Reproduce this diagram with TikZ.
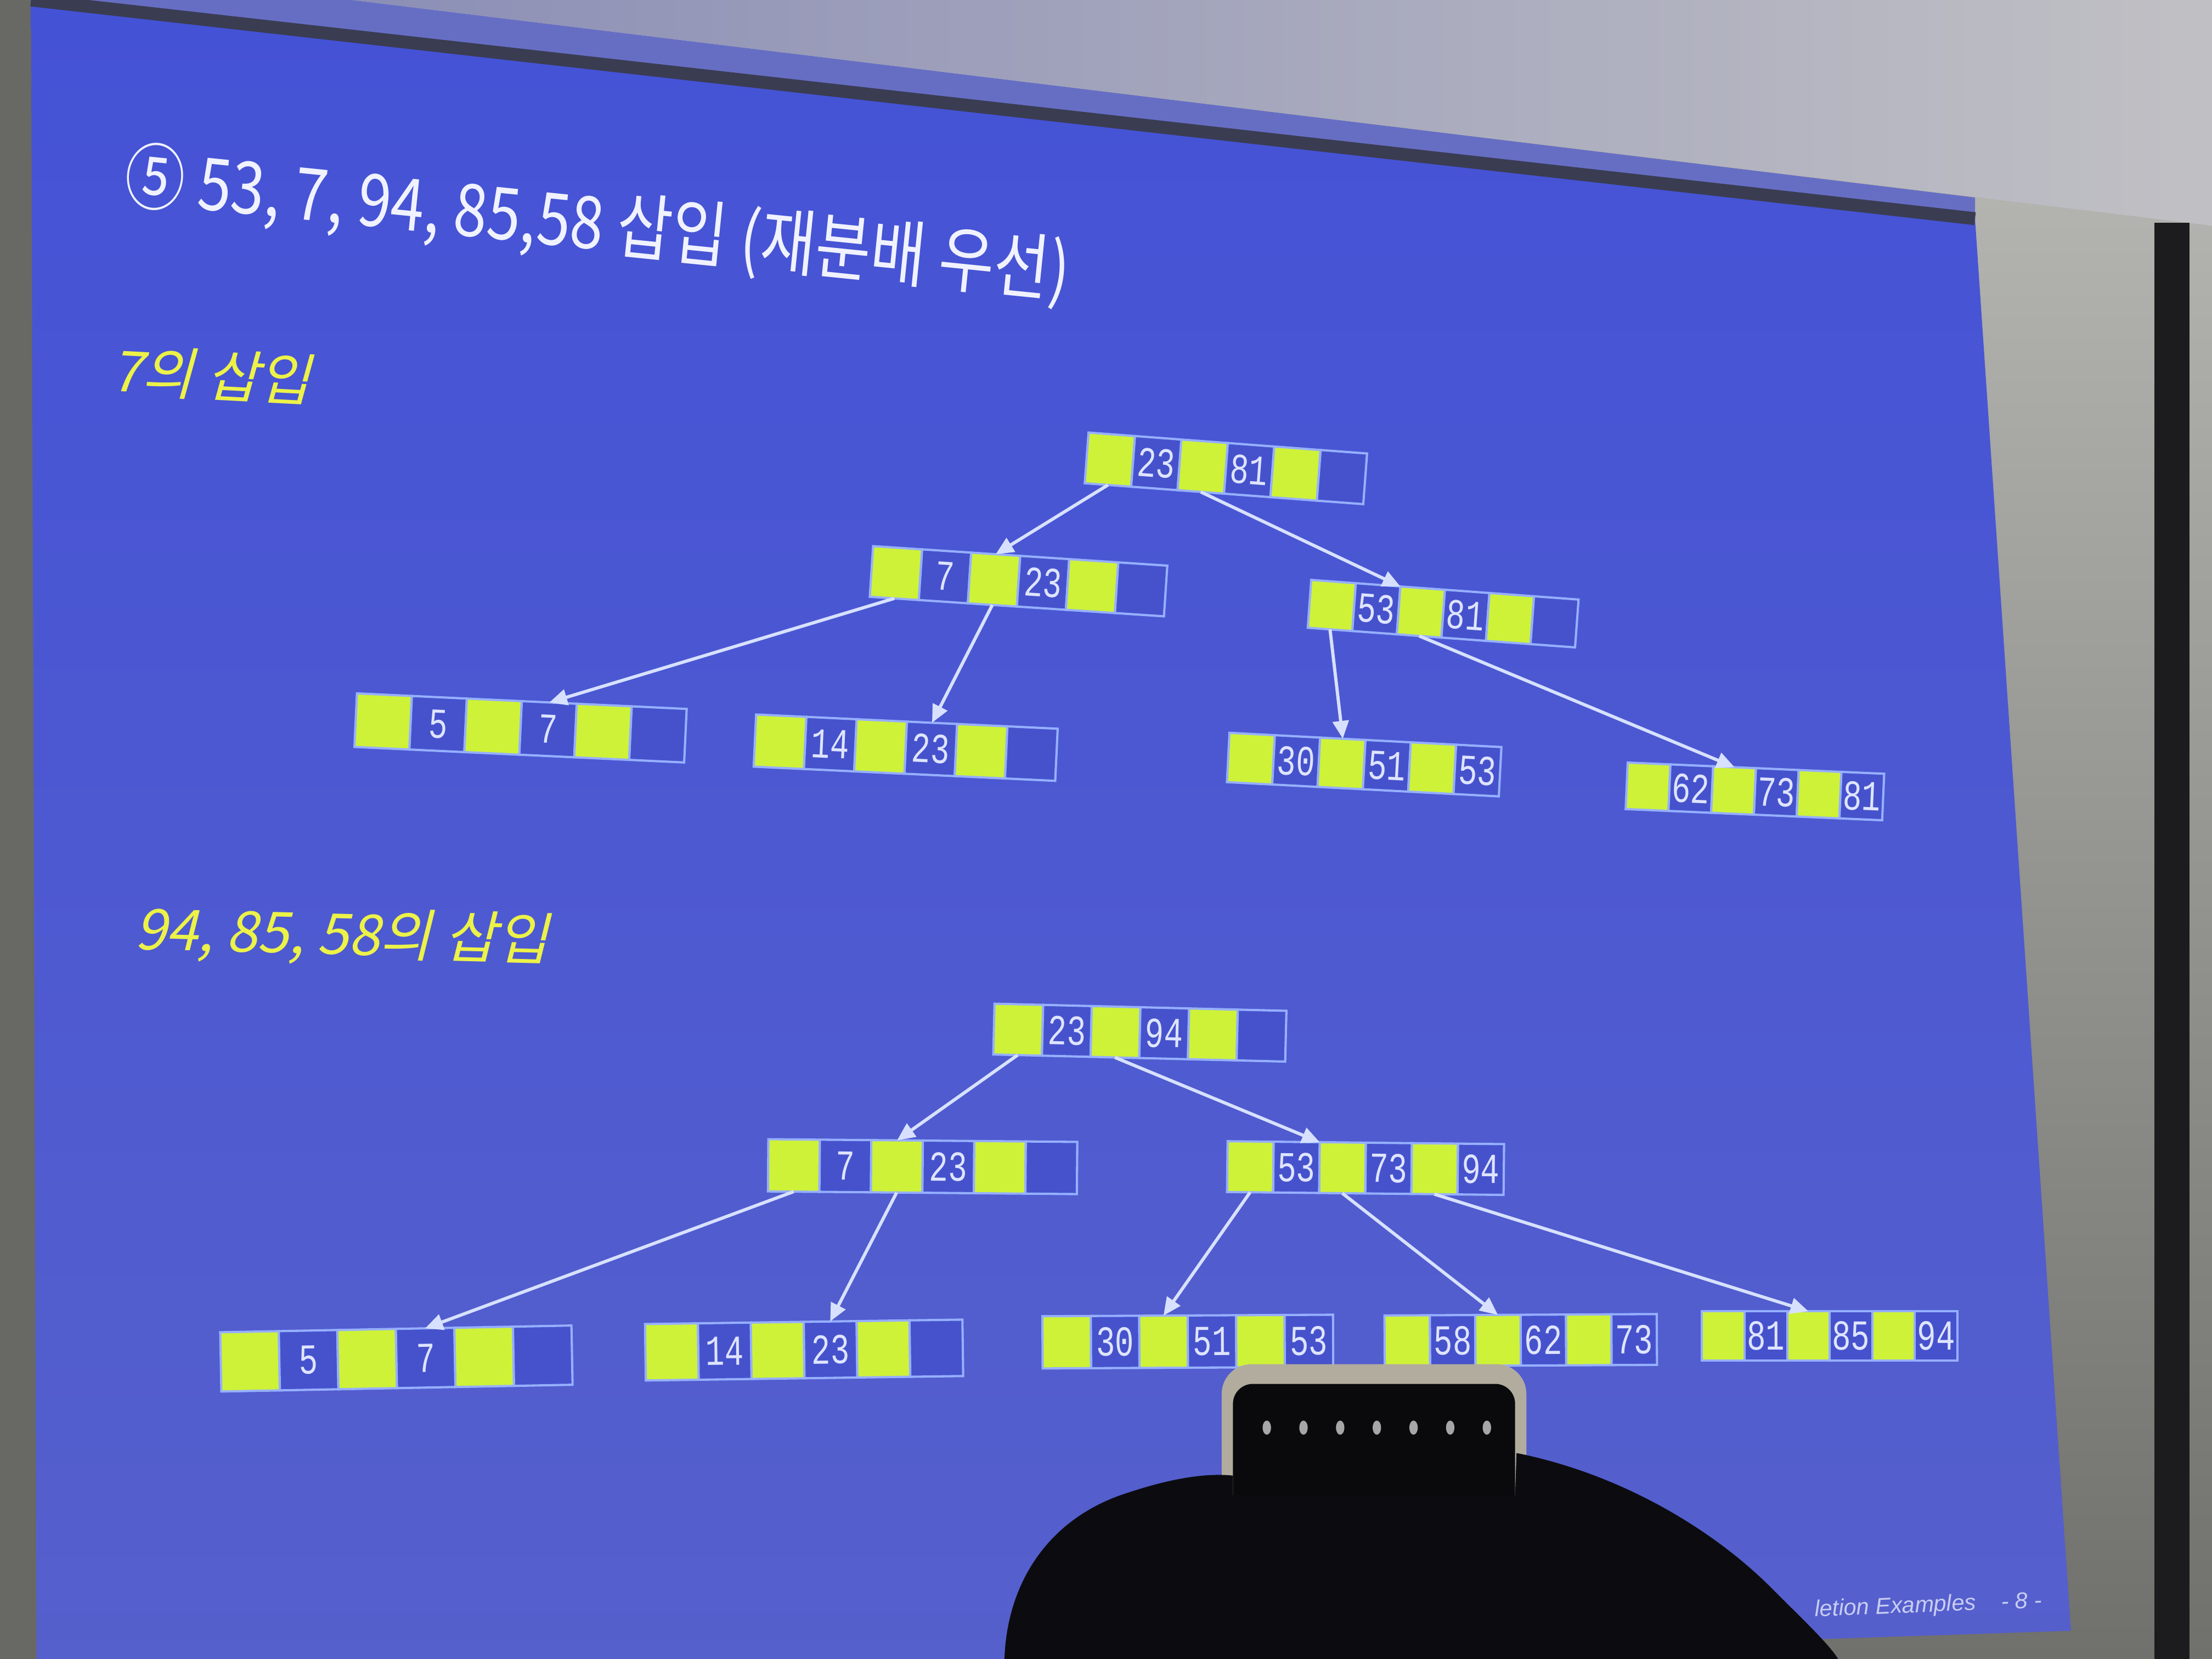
\documentclass[tikz,border=0pt]{standalone}
\usepackage{fontspec}
\usetikzlibrary{arrows.meta}
\newfontfamily\titlefont[FakeStretch=0.83]{Noto Sans CJK KR}
\newfontfamily\subfont[FakeSlant=0.22]{Noto Sans CJK KR}
\newfontfamily\cellfont[FakeStretch=0.74]{Liberation Mono}
\newfontfamily\footfont{Liberation Sans}

\definecolor{slidetop}{RGB}{68,82,214}
\definecolor{slidebot}{RGB}{86,96,204}
\definecolor{spill}{RGB}{102,110,196}
\definecolor{housing}{RGB}{58,60,82}
\definecolor{ceilL}{RGB}{140,143,182}
\definecolor{ceilR}{RGB}{192,192,196}
\definecolor{wallT}{RGB}{188,188,184}
\definecolor{wallB}{RGB}{112,112,108}
\definecolor{wallL}{RGB}{104,104,100}
\definecolor{frameedge}{RGB}{28,28,30}
\definecolor{lime}{RGB}{206,242,56}
\definecolor{keyblue}{RGB}{70,82,204}
\definecolor{cellline}{RGB}{150,176,255}
\definecolor{celltext}{RGB}{222,228,255}
\definecolor{linkcol}{RGB}{215,225,255}
\definecolor{titlecol}{RGB}{240,242,255}
\definecolor{subcol}{RGB}{236,242,72}
\definecolor{footcol}{RGB}{200,205,242}
\definecolor{hair}{RGB}{12,12,16}
\definecolor{phonerim}{RGB}{178,172,158}
\definecolor{phonebody}{RGB}{10,10,12}

\tikzset{
  cellbase/.style={draw=cellline, line width=0.45pt, inner sep=0pt, outer sep=0pt,
    font=\cellfont\fontsize{8.6}{9}\selectfont, text=celltext},
  ptrcell/.style={cellbase, fill=lime},
  keycell/.style={cellbase, fill=keyblue},
  link/.style={draw=linkcol, line width=0.65pt, -{Triangle[length=3.6pt,width=3.2pt]}},
  heading/.style={font=\titlefont\fontsize{14.6}{16}\selectfont, text=titlecol, inner sep=0pt},
  subhead/.style={font=\subfont\fontsize{11.4}{13}\selectfont, text=subcol, inner sep=0pt},
  footer/.style={font=\footfont\itshape\fontsize{4.6}{5}\selectfont, text=footcol, inner sep=0pt},
}

% one B-tree page: name, centre x, centre y, width, height, angle, key1, key2, key3
\newcommand\btnode[9]{%
  \begin{scope}[shift={(#2,#3)}, rotate=#6, transform shape]
    \pgfmathsetmacro\cw{#4/6}
    \foreach \i/\st/\t in {1/ptrcell/{},2/keycell/{#7},3/ptrcell/{},4/keycell/{#8},5/ptrcell/{},6/keycell/{#9}}{
      \pgfmathsetmacro\xx{(\i-3.5)*\cw}
      \node[\st, minimum width=\cw*0.01cm, minimum height=#5*0.01cm] (#1-c\i) at (\xx,0) {\t};
    }
  \end{scope}}

\begin{document}
\begin{tikzpicture}[x=0.01cm, y=-0.01cm]
\useasboundingbox (0,0) rectangle (1568,1176);
\clip (0,0) rectangle (1568,1176);

% room: wall, ceiling, screen frame
\shade[top color=wallT, bottom color=wallB] (0,0) rectangle (1568,1176);
\fill[wallL] (0,0) rectangle (40,1176);
\shade[left color=ceilL, right color=ceilR] (249,0) -- (1568,0) -- (1568,160) -- cycle;
\fill[spill] (20,0) -- (249,0) -- (1400,140) -- (1400,156) -- cycle;
\fill[frameedge] (1527,158) rectangle (1552,1176);

% projected slide
\shade[top color=slidetop, bottom color=slidebot]
  (22,0) -- (1400,155) -- (1468,1156) -- (26,1204) -- cycle;
\draw[housing, line width=2.6pt] (22,0) -- (1400,155);

% title and section headings
\node[heading, anchor=west, rotate=-5.8] (title) at (88,126)
  {⑤ 53, 7, 94, 85,58 삽입 (재분배 우선)};
\node[subhead, anchor=west, rotate=-3] (sub1) at (78,262) {7의 삽입};
\node[subhead, anchor=west, rotate=-1.5] (sub2) at (95,660) {94, 85, 58의 삽입};

% tree after inserting 7
\btnode{ra}{869}{332}{198}{36}{-4.3}{23}{81}{}
\btnode{rb}{722}{412}{209}{36}{-3.8}{7}{23}{}
\btnode{rc}{1023}{435}{190}{34}{-4.2}{53}{81}{}
\btnode{la}{369}{516}{234}{38}{-2.7}{5}{7}{}
\btnode{lb}{642}{530}{214}{37}{-2.7}{14}{23}{}
\btnode{lc}{967}{542}{193}{35}{-3}{30}{51}{53}
\btnode{ld}{1244}{561}{182}{33}{-2.5}{62}{73}{81}

\draw[link] (ra-c1.south) -- (rb-c3.north);
\draw[link] (ra-c3.south) -- (rc-c3.north west);
\draw[link] (rb-c1.south) -- (la-c4.north);
\draw[link] (rb-c3.south) -- (lb-c4.north);
\draw[link] (rc-c1.south) -- (lc-c3.north);
\draw[link] (rc-c3.south) -- (ld-c3.north);

% tree after inserting 94, 85, 58
\btnode{sa}{808}{732}{207}{36}{-1.4}{23}{94}{}
\btnode{sb}{654}{827}{219}{37}{-0.5}{7}{23}{}
\btnode{sc}{968}{828}{196}{36}{-0.6}{53}{73}{94}
\btnode{ma}{281}{963}{249}{42}{1.1}{5}{7}{}
\btnode{mb}{570}{957}{225}{40}{0.8}{14}{23}{}
\btnode{mc}{842}{951}{206}{37}{0.3}{30}{51}{53}
\btnode{md}{1078}{950}{193}{36}{0.3}{58}{62}{73}
\btnode{me}{1297}{947}{181}{35}{0}{81}{85}{94}

\draw[link] (sa-c1.south) -- (sb-c3.north);
\draw[link] (sa-c3.south) -- (sc-c3.north west);
\draw[link] (sb-c1.south) -- (ma-c4.north);
\draw[link] (sb-c3.south) -- (mb-c4.north);
\draw[link] (sc-c1.south) -- (mc-c3.north);
\draw[link] (sc-c3.south) -- (md-c3.north);
\draw[link] (sc-c5.south) -- (me-c3.north);

% footer
\node[footer, anchor=base west, rotate=2.4] (foot) at (1286,1146) {letion Examples};
\node[footer, anchor=base west, rotate=2.4] (page) at (1418,1141) {- 8 -};

% phone and head in front of the screen
\fill[phonerim, rounded corners=6pt] (866,1080) -- (866,967) -- (1082,967) -- (1082,1080) -- cycle;
\fill[phonebody, rounded corners=4pt] (874,1080) -- (874,981) -- (1074,981) -- (1074,1080) -- cycle;
\foreach \dx in {898,924,950,976,1002,1028,1054}
  \fill[gray!70] (\dx,1012) ellipse [x radius=3, y radius=5];
\fill[hair] (712,1176) .. controls (714,1120) and (745,1075) .. (800,1058)
  .. controls (830,1048) and (855,1044) .. (874,1046) -- (874,1060) -- (1074,1060) -- (1075,1030)
  .. controls (1150,1045) and (1215,1085) .. (1255,1125)
  .. controls (1280,1150) and (1296,1165) .. (1303,1176) -- cycle;
\end{tikzpicture}
\end{document}
